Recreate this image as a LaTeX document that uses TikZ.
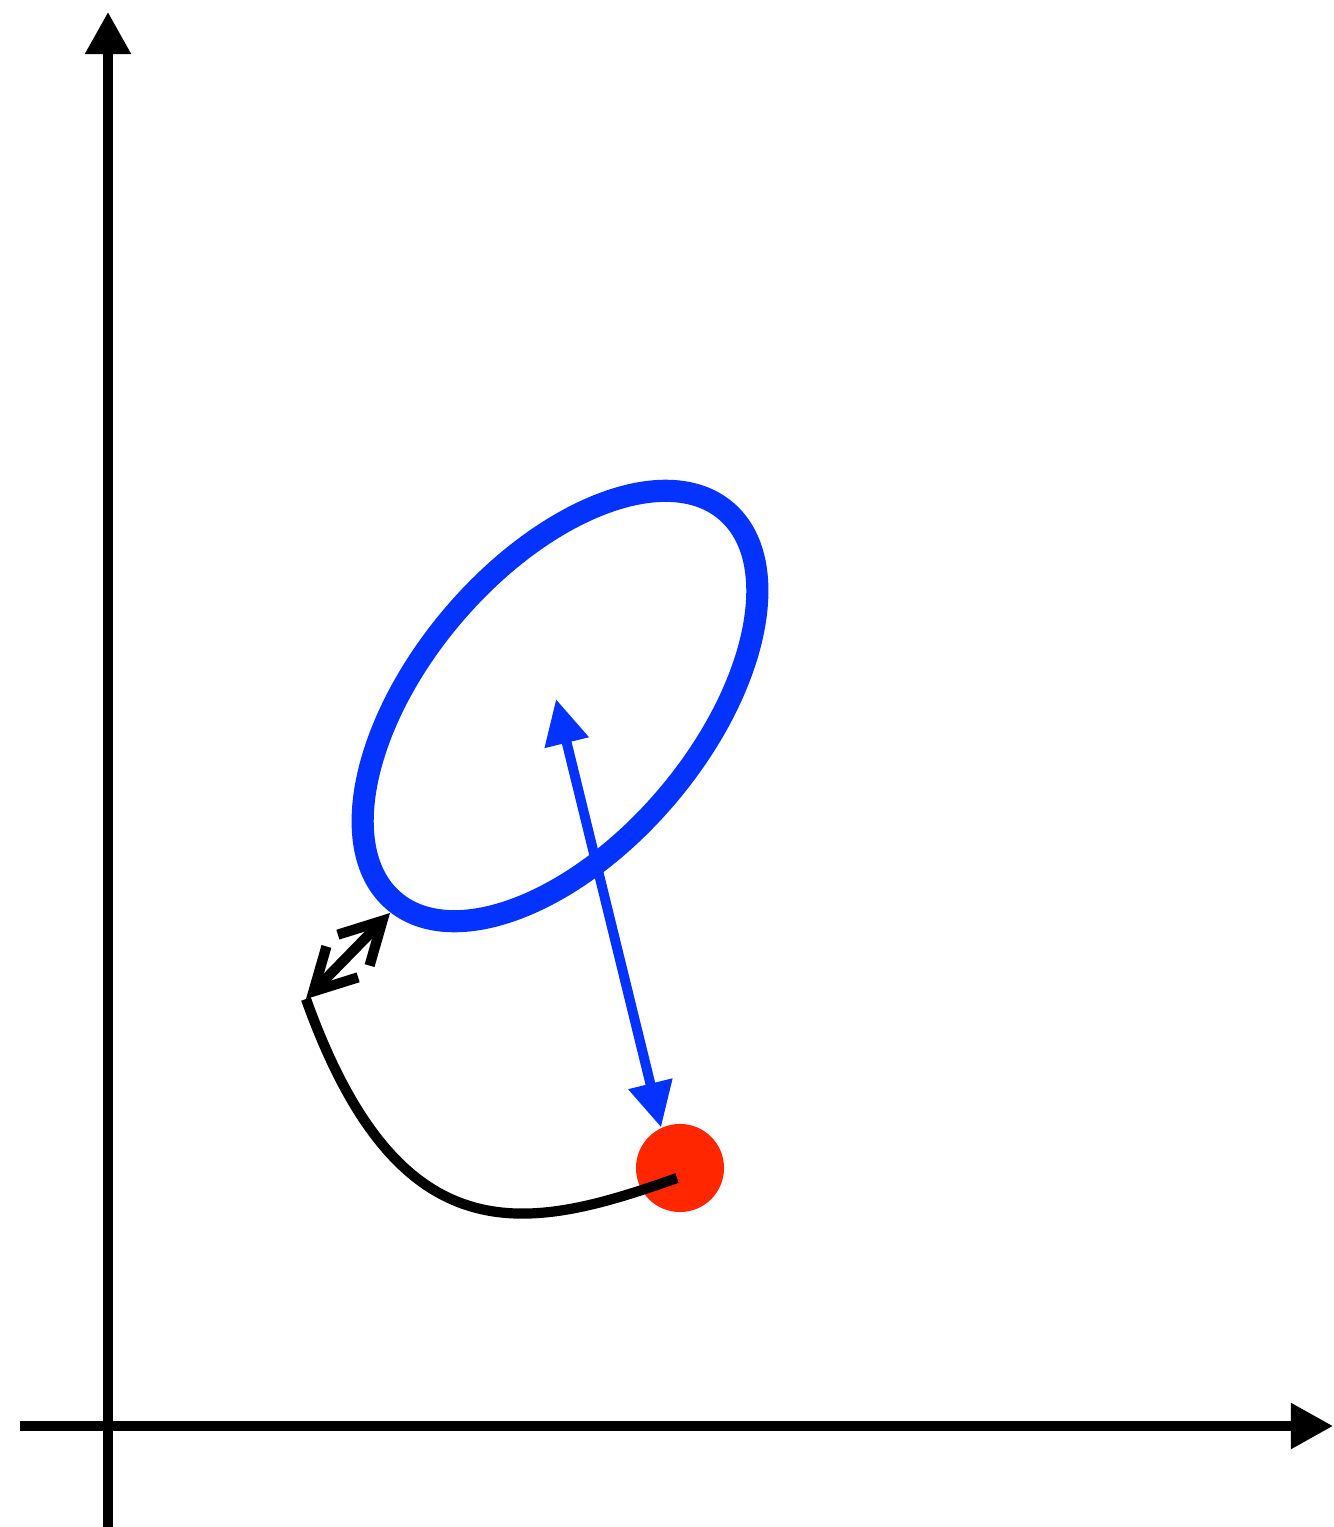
\documentclass[tikz,border=0pt]{standalone}
\usepackage{xcolor}
\usepackage{tikz}
\usetikzlibrary{arrows.meta}
\definecolor{r25ink}{HTML}{000000}
\definecolor{r25ring}{HTML}{0433FF}
\definecolor{r25dot}{HTML}{FF2600}
\tikzset{
  axis/.style  = {line width=2.6pt, draw=r25ink,
                  -{Triangle[length=12pt, width=12.5pt]}},
  ring/.style  = {line width=6.3pt, draw=r25ring},
  vec/.style   = {line width=2.8pt, draw=r25ring, {Triangle[length=12.8pt, width=12.2pt]}-{Triangle[length=12.8pt, width=12.2pt]}},
  dot/.style   = {circle, fill=r25dot, minimum size=2.48cm*0.355, inner sep=0pt},
  link/.style  = {line width=2.9pt, draw=r25ink},
  gap/.style   = {line width=2.9pt, draw=r25ink,
                  {Straight Barb[length=11.7pt, width=12.6pt]}-{Straight Barb[length=11.7pt, width=12.6pt]}},
}
\begin{document}
\begin{tikzpicture}[x=0.01cm, y=-0.01cm]
\useasboundingbox (0,0) rectangle (1334,1527);
% axes
\coordinate (yb) at (108,1527); \coordinate (yt) at (108,12);
\coordinate (xl) at (20,1426);  \coordinate (xr) at (1333,1426);
\draw[axis] (yb) -- (yt);
\draw[axis] (xl) -- (xr);
% level set and point
\draw[ring] (560,706) ellipse[x radius=2.56cm, y radius=1.40cm, rotate=49.6];
\node[dot] (p) at (680,1168) {};
\coordinate (c) at (556,699);
\draw[vec] (c) -- (p.115);
% path to the closest point
\coordinate (s) at (677,1178);
\coordinate (a) at (306,999);
\coordinate (b) at (390,913);
\draw[link] (s) .. controls (530,1230) and (400,1262) .. (a);
\draw[gap] (a) -- (b);
\end{tikzpicture}
\end{document}
